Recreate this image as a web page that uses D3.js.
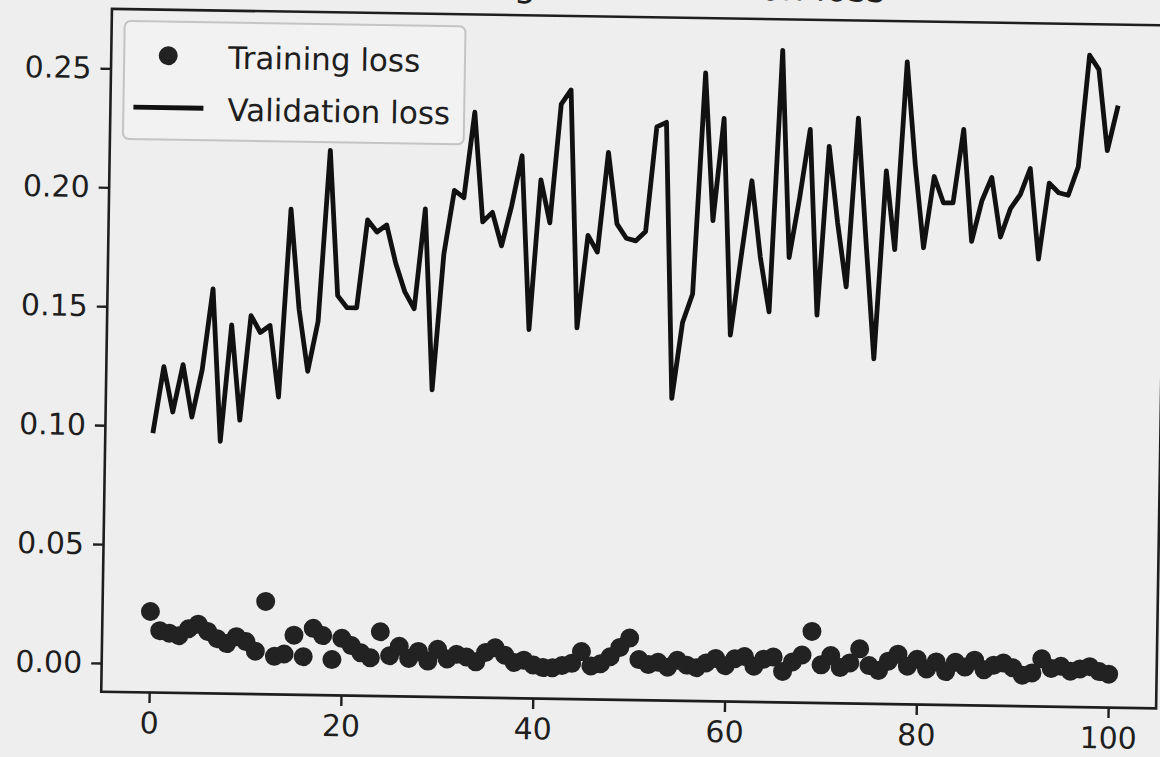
<!DOCTYPE html>
<html>
<head>
<meta charset="utf-8">
<script src="https://cdn.jsdelivr.net/npm/d3@7"></script>
<style>
  body { margin: 0; background: #eeeeee; }
  svg { display: block; }
</style>
</head>
<body>
<div id="chart"></div>
<script>
// values
var titleText = "Training and validation loss";
var seriesNames = ["Training loss", "Validation loss"];
var xTicks = [0, 20, 40, 60, 80, 100];
var yTicks = [0.00, 0.05, 0.10, 0.15, 0.20, 0.25];

var trainLoss = [
  0.022, 0.014, 0.013, 0.012, 0.015, 0.017, 0.014, 0.011, 0.009, 0.012,
  0.010, 0.006, 0.027, 0.004, 0.005, 0.013, 0.004, 0.016, 0.013, 0.003,
  0.012, 0.009, 0.006, 0.004, 0.015, 0.005, 0.009, 0.004, 0.007, 0.003,
  0.008, 0.004, 0.006, 0.005, 0.003, 0.007, 0.009, 0.006, 0.003, 0.004,
  0.002, 0.001, 0.001, 0.002, 0.003, 0.008, 0.002, 0.003, 0.006, 0.010,
  0.014, 0.005, 0.003, 0.004, 0.002, 0.005, 0.003, 0.002, 0.004, 0.006,
  0.003, 0.006, 0.007, 0.003, 0.006, 0.007, 0.001, 0.005, 0.008, 0.018,
  0.004, 0.008, 0.003, 0.005, 0.011, 0.004, 0.002, 0.006, 0.009, 0.004,
  0.007, 0.003, 0.006, 0.002, 0.006, 0.004, 0.007, 0.003, 0.005, 0.006,
  0.004, 0.001, 0.002, 0.008, 0.004, 0.005, 0.003, 0.004, 0.005, 0.003,
  0.002
];

var valLoss = [
  0.098, 0.125, 0.106, 0.126, 0.104, 0.124, 0.158, 0.094, 0.143, 0.103,
  0.147, 0.140, 0.143, 0.113, 0.192, 0.150, 0.124, 0.145, 0.217, 0.156,
  0.151, 0.151, 0.188, 0.183, 0.186, 0.170, 0.158, 0.151, 0.193, 0.117,
  0.174, 0.201, 0.198, 0.234, 0.188, 0.192, 0.178, 0.195, 0.216, 0.143,
  0.206, 0.188, 0.238, 0.244, 0.144, 0.183, 0.176, 0.218, 0.188, 0.182,
  0.181, 0.185, 0.229, 0.231, 0.115, 0.147, 0.159, 0.252, 0.190, 0.233,
  0.142, 0.175, 0.207, 0.175, 0.152, 0.262, 0.175, 0.200, 0.229, 0.151,
  0.222, 0.190, 0.163, 0.234, 0.182, 0.133, 0.212, 0.179, 0.258, 0.215,
  0.180, 0.210, 0.199, 0.199, 0.230, 0.183, 0.200, 0.210, 0.185, 0.197,
  0.203, 0.214, 0.176, 0.208, 0.204, 0.203, 0.215, 0.262, 0.256, 0.222,
  0.240
];

var W = 1160, H = 757;
var plot = {left: 106.5, right: 1161.5, top: 17, bottom: 700};
var font = "'DejaVu Sans', sans-serif";
var ink = "#1e1e1e";

var svg = d3.select("#chart").append("svg")
    .attr("width", W)
    .attr("height", H);

svg.append("rect")
    .attr("width", W).attr("height", H)
    .attr("fill", "#eeeeee");

// the scan is a little tilted clockwise
var g = svg.append("g")
    .attr("transform", "rotate(0.9,630,360)");

// matplotlib style 5% margins
var xScale = d3.scaleLinear()
    .domain([-5, 105])
    .range([plot.left, plot.right]);

var allVals = trainLoss.concat(valLoss);
var yMin = d3.min(allVals), yMax = d3.max(allVals);
var pad = (yMax - yMin) * 0.05;
var yScale = d3.scaleLinear()
    .domain([yMin - pad, yMax + pad])
    .range([plot.bottom, plot.top]);

// title, almost entirely cut off by the top edge as in the scan
g.append("text")
    .attr("x", (plot.left + plot.right) / 2)
    .attr("y", plot.top - 19)
    .attr("text-anchor", "middle")
    .attr("font-family", font)
    .attr("font-size", 36)
    .attr("fill", ink)
    .text(titleText);

// axes
var xAxis = g.append("g")
    .attr("transform", "translate(0," + plot.bottom + ")")
    .call(d3.axisBottom(xScale).tickValues(xTicks).tickSize(10.5).tickSizeOuter(0).tickPadding(9)
      .tickFormat(d3.format("d")));

var yAxis = g.append("g")
    .attr("transform", "translate(" + plot.left + ",0)")
    .call(d3.axisLeft(yScale).tickValues(yTicks).tickSize(10.5).tickSizeOuter(0).tickPadding(9)
      .tickFormat(d3.format(".2f")));

[xAxis, yAxis].forEach(function(a) {
  a.select(".domain").remove();
  a.selectAll(".tick line").attr("stroke", ink).attr("stroke-width", 2.4);
  a.selectAll(".tick text")
    .attr("font-family", font)
    .attr("font-size", 30)
    .attr("fill", ink);
});

// frame
g.append("rect")
    .attr("x", plot.left).attr("y", plot.top)
    .attr("width", plot.right - plot.left)
    .attr("height", plot.bottom - plot.top)
    .attr("fill", "none")
    .attr("stroke", ink)
    .attr("stroke-width", 2.6);

// validation line
var line = d3.line()
    .x(function(d, i) { return xScale(i); })
    .y(function(d) { return yScale(d); });

g.append("path")
    .datum(valLoss)
    .attr("d", line)
    .attr("fill", "none")
    .attr("stroke", "#111")
    .attr("stroke-width", 4.8)
    .attr("stroke-linejoin", "round")
    .attr("stroke-linecap", "square");

// training dots
g.append("g")
  .selectAll("circle")
  .data(trainLoss)
  .enter().append("circle")
    .attr("cx", function(d, i) { return xScale(i); })
    .attr("cy", function(d) { return yScale(d); })
    .attr("r", 9.5)
    .attr("fill", "#222");

// legend
var lg = g.append("g")
    .attr("transform", "translate(" + (plot.left + 13) + "," + (plot.top + 12) + ")");

var frame = lg.append("rect")
    .attr("rx", 6).attr("ry", 6)
    .attr("fill", "#f2f2f2")
    .attr("stroke", "#c4c4c4")
    .attr("stroke-width", 2);

lg.append("circle")
    .attr("cx", 44).attr("cy", 34)
    .attr("r", 9.5)
    .attr("fill", "#222");

lg.append("line")
    .attr("x1", 10).attr("x2", 80)
    .attr("y1", 86).attr("y2", 86)
    .attr("stroke", "#111")
    .attr("stroke-width", 4.8);

var labels = lg.selectAll("text.lab")
  .data(seriesNames)
  .enter().append("text")
    .attr("class", "lab")
    .attr("x", 104)
    .attr("y", function(d, i) { return 46 + i * 52; })
    .attr("font-family", font)
    .attr("font-size", 31)
    .attr("fill", ink)
    .text(function(d) { return d; });

var maxLen = d3.max(labels.nodes(), function(n) { return n.getComputedTextLength(); });
frame.attr("width", 104 + maxLen + 14).attr("height", 118);
</script>
</body>
</html>
